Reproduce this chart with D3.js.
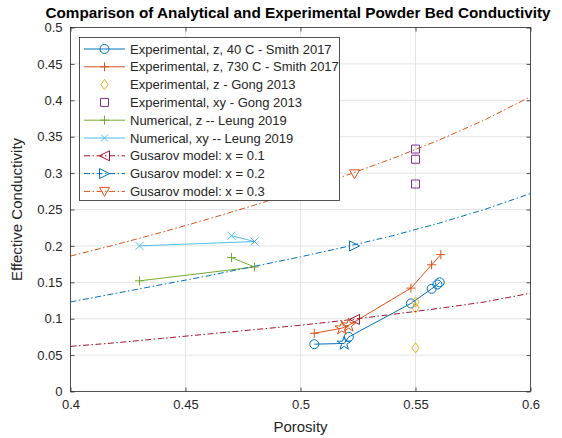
<!DOCTYPE html>
<html>
<head>
<meta charset="utf-8">
<script src="https://cdn.jsdelivr.net/npm/d3@7"></script>
<style>
  html, body { margin: 0; padding: 0; background: #fff; }
  svg { display: block; font-family: "Liberation Sans", Arial, Helvetica, sans-serif; }
</style>
</head>
<body>
<svg id="chart" width="562" height="438"></svg>
<script>
// ---- axis ticks ----
const porosityTicks = [0.4, 0.45, 0.5, 0.55, 0.6];
const conductivityTicks = [0, 0.05, 0.1, 0.15, 0.2, 0.25, 0.3, 0.35, 0.4, 0.45, 0.5];

// ---- measured series ----
const smith40Porosity = [0.506, 0.519, 0.521, 0.548, 0.557, 0.5595, 0.5605];
const smith40K        = [0.065, 0.066, 0.075, 0.121, 0.141, 0.147, 0.150];
const smith40Starred  = [false, true, false, false, false, false, false];

const smith730Porosity = [0.506, 0.518, 0.521, 0.548, 0.557, 0.561];
const smith730K        = [0.080, 0.087, 0.091, 0.142, 0.174, 0.188];
const smith730Starred  = [false, true, true, false, false, false];

const gongZPorosity = [0.55, 0.55, 0.55];
const gongZK        = [0.123, 0.115, 0.060];

const gongXYPorosity = [0.55, 0.55, 0.55];
const gongXYK        = [0.333, 0.319, 0.285];

const leungZPorosity = [0.43, 0.48, 0.47];
const leungZK        = [0.152, 0.171, 0.184];

const leungXYPorosity = [0.43, 0.48, 0.47];
const leungXYK        = [0.200, 0.206, 0.214];

// ---- Gusarov model curves ----
const modelPorosity = [0.40, 0.42, 0.44, 0.46, 0.48, 0.50, 0.52, 0.54, 0.56, 0.58, 0.60];
const gusarov01 = [0.062, 0.067, 0.073, 0.079, 0.085, 0.091, 0.098, 0.106, 0.114, 0.123, 0.135];
const gusarov02 = [0.123, 0.135, 0.147, 0.159, 0.172, 0.185, 0.199, 0.214, 0.231, 0.250, 0.272];
const gusarov03 = [0.186, 0.202, 0.219, 0.237, 0.256, 0.276, 0.297, 0.320, 0.345, 0.373, 0.405];
const gusarovMarkPorosity = [0.5235, 0.5235, 0.5235];
const gusarovMarkK        = [0.099, 0.200, 0.299];

const legendLabels = [
  "Experimental, z, 40 C - Smith 2017",
  "Experimental, z, 730 C - Smith 2017",
  "Experimental, z - Gong 2013",
  "Experimental, xy - Gong 2013",
  "Numerical, z -- Leung 2019",
  "Numerical, xy -- Leung 2019",
  "Gusarov model: x = 0.1",
  "Gusarov model: x = 0.2",
  "Gusarov model: x = 0.3"
];

const C = {
  blue: "#0072BD", orange: "#D95319", yellow: "#EDB120", purple: "#7E2F8E",
  green: "#77AC30", cyan: "#4DBEEE", maroon: "#A2142F"
};
const dashDot = "6,2.5,1.5,2.5";

const svg = d3.select("#chart");
const plot = { left: 70.5, right: 530.5, top: 27.5, bottom: 391.5 };

const x = d3.scaleLinear().domain([0.4, 0.6]).range([plot.left, plot.right]);
const y = d3.scaleLinear().domain([0, 0.5]).range([plot.bottom, plot.top]);

// ---- marker shapes (outlined, centred at origin) ----
function markerPath(type, s) {
  const h = s / 2;
  switch (type) {
    case "circle": return d3.symbol(d3.symbolCircle, Math.PI * h * h)();
    case "plus": return `M${-h},0H${h}M0,${-h}V${h}`;
    case "x": return `M${-h},${-h}L${h},${h}M${-h},${h}L${h},${-h}`;
    case "diamond": return `M0,${-h * 1.15}L${h * 0.8},0L0,${h * 1.15}L${-h * 0.8},0Z`;
    case "square": return `M${-h},${-h}H${h}V${h}H${-h}Z`;
    case "triLeft": return `M${-h},0L${h},${-h}L${h},${h}Z`;
    case "triRight": return `M${h},0L${-h},${-h}L${-h},${h}Z`;
    case "triDown": return `M0,${h}L${-h},${-h * 0.8}L${h},${-h * 0.8}Z`;
    case "star": return d3.symbol(d3.symbolStar, s * s * 0.35)();
  }
}

// ---- grid ----
const grid = svg.append("g");
grid.selectAll(".gx").data(porosityTicks.slice(1, -1)).join("line")
  .attr("x1", d => x(d)).attr("x2", d => x(d))
  .attr("y1", plot.top).attr("y2", plot.bottom)
  .attr("stroke", "#e4e4e4").attr("stroke-width", 1);
grid.selectAll(".gy").data(conductivityTicks.slice(1, -1)).join("line")
  .attr("x1", plot.left).attr("x2", plot.right)
  .attr("y1", d => y(d)).attr("y2", d => y(d))
  .attr("stroke", "#e4e4e4").attr("stroke-width", 1);

// ---- axes (ticks drawn inward, mirrored on the opposite sides) ----
const axisColor = "#262626";
const fmt = d => String(+d.toFixed(2));
const tick = 4;
const bottomAxis = d3.axisBottom(x).tickValues(porosityTicks).tickFormat(fmt).tickSizeInner(-tick).tickSizeOuter(0).tickPadding(8);
const leftAxis = d3.axisLeft(y).tickValues(conductivityTicks).tickFormat(fmt).tickSizeInner(-tick).tickSizeOuter(0).tickPadding(8);
const topAxis = d3.axisTop(x).tickValues(porosityTicks).tickFormat("").tickSizeInner(-tick).tickSizeOuter(0);
const rightAxis = d3.axisRight(y).tickValues(conductivityTicks).tickFormat("").tickSizeInner(-tick).tickSizeOuter(0);

function styleAxis(g) {
  g.select(".domain").remove();
  g.selectAll("line").attr("stroke", axisColor).attr("stroke-width", 0.8);
  g.selectAll("text").attr("fill", axisColor).attr("font-size", 13)
    .attr("font-family", '"Liberation Sans", Arial, sans-serif');
}
svg.append("g").attr("transform", `translate(0,${plot.bottom})`).call(bottomAxis).call(styleAxis);
svg.append("g").attr("transform", `translate(${plot.left},0)`).call(leftAxis).call(styleAxis);
svg.append("g").attr("transform", `translate(0,${plot.top})`).call(topAxis).call(styleAxis);
svg.append("g").attr("transform", `translate(${plot.right},0)`).call(rightAxis).call(styleAxis);

svg.append("rect")
  .attr("x", plot.left).attr("y", plot.top)
  .attr("width", plot.right - plot.left).attr("height", plot.bottom - plot.top)
  .attr("fill", "none").attr("stroke", axisColor).attr("stroke-width", 0.8);

// ---- series drawing ----
svg.append("clipPath").attr("id", "plotClip").append("rect")
  .attr("x", plot.left).attr("y", plot.top)
  .attr("width", plot.right - plot.left).attr("height", plot.bottom - plot.top);
const layer = svg.append("g").attr("clip-path", "url(#plotClip)");
const lineGen = d3.line().x(d => x(d[0])).y(d => y(d[1]));

function drawLine(xs, ys, color, dash) {
  layer.append("path")
    .datum(d3.zip(xs, ys))
    .attr("d", lineGen)
    .attr("fill", "none").attr("stroke", color).attr("stroke-width", 1)
    .attr("stroke-dasharray", dash || null);
}
function drawMarkers(xs, ys, type, size, color, keep) {
  const pts = d3.zip(xs, ys).filter((_, i) => !keep || keep(i));
  layer.append("g").selectAll("path").data(pts).join("path")
    .attr("transform", d => `translate(${x(d[0])},${y(d[1])})`)
    .attr("d", markerPath(type, size))
    .attr("fill", "none").attr("stroke", color).attr("stroke-width", 1);
}

// Smith 2017, 40 C
drawLine(smith40Porosity, smith40K, C.blue);
drawMarkers(smith40Porosity, smith40K, "circle", 9, C.blue, i => !smith40Starred[i]);
// Smith 2017, 730 C
drawLine(smith730Porosity, smith730K, C.orange);
drawMarkers(smith730Porosity, smith730K, "plus", 9, C.orange, i => !smith730Starred[i]);
// Gong 2013
drawMarkers(gongZPorosity, gongZK, "diamond", 9, C.yellow);
drawMarkers(gongXYPorosity, gongXYK, "square", 8, C.purple);
// Leung 2019
drawLine(leungZPorosity, leungZK, C.green);
drawMarkers(leungZPorosity, leungZK, "plus", 9, C.green);
drawLine(leungXYPorosity, leungXYK, C.cyan);
drawMarkers(leungXYPorosity, leungXYK, "x", 8, C.cyan);
// Gusarov model curves, each carrying a single marker
drawLine(modelPorosity, gusarov01, C.maroon, dashDot);
drawMarkers([gusarovMarkPorosity[0]], [gusarovMarkK[0]], "triLeft", 10, C.maroon);
drawLine(modelPorosity, gusarov02, C.blue, dashDot);
drawMarkers([gusarovMarkPorosity[1]], [gusarovMarkK[1]], "triRight", 10, C.blue);
drawLine(modelPorosity, gusarov03, C.orange, dashDot);
drawMarkers([gusarovMarkPorosity[2]], [gusarovMarkK[2]], "triDown", 10, C.orange);
// highlighted measurements (pentagrams)
drawMarkers(smith40Porosity, smith40K, "star", 13, C.blue, i => smith40Starred[i]);
drawMarkers(smith730Porosity, smith730K, "star", 13, C.orange, i => smith730Starred[i]);

// ---- legend ----
const legendItems = [
  { color: C.blue, marker: "circle", line: true, size: 9 },
  { color: C.orange, marker: "plus", line: true, size: 9 },
  { color: C.yellow, marker: "diamond", line: false, size: 9 },
  { color: C.purple, marker: "square", line: false, size: 8 },
  { color: C.green, marker: "plus", line: true, size: 9 },
  { color: C.cyan, marker: "x", line: true, size: 7 },
  { color: C.maroon, marker: "triLeft", line: true, size: 10, dash: dashDot },
  { color: C.blue, marker: "triRight", line: true, size: 10, dash: dashDot },
  { color: C.orange, marker: "triDown", line: true, size: 10, dash: dashDot }
].map((d, i) => ({ ...d, label: legendLabels[i] }));

const lg = svg.append("g");
lg.append("rect").attr("x", 79.5).attr("y", 37.5).attr("width", 260).attr("height", 163)
  .attr("fill", "#fff").attr("stroke", axisColor).attr("stroke-width", 0.8);
const row = lg.selectAll(".row").data(legendItems).join("g")
  .attr("transform", (d, i) => `translate(0,${49 + i * 17.8})`);
row.filter(d => d.line).append("line")
  .attr("x1", 84).attr("x2", 125).attr("y1", 0).attr("y2", 0)
  .attr("stroke", d => d.color).attr("stroke-width", 1)
  .attr("stroke-dasharray", d => d.dash || null);
row.append("path")
  .attr("transform", "translate(104.5,0)")
  .attr("d", d => markerPath(d.marker, d.size))
  .attr("fill", "none").attr("stroke", d => d.color).attr("stroke-width", 1);
row.append("text").attr("x", 130).attr("y", 4.5)
  .attr("font-size", 13).attr("fill", axisColor).text(d => d.label);

// ---- title and axis labels ----
svg.append("text").attr("x", 298).attr("y", 17.5)
  .attr("text-anchor", "middle").attr("font-weight", "bold").attr("font-size", 15.3)
  .attr("fill", "#000").text("Comparison of Analytical and Experimental Powder Bed Conductivity");
svg.append("text").attr("x", (plot.left + plot.right) / 2).attr("y", 432)
  .attr("text-anchor", "middle").attr("font-size", 15).attr("fill", axisColor).text("Porosity");
svg.append("text").attr("transform", `translate(22,${(plot.top + plot.bottom) / 2}) rotate(-90)`)
  .attr("text-anchor", "middle").attr("font-size", 15).attr("fill", axisColor).text("Effective Conductivity");
</script>
</body>
</html>
